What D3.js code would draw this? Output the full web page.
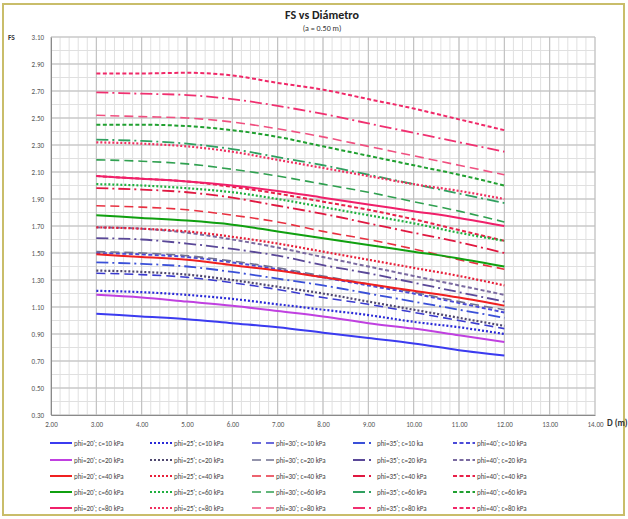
<!DOCTYPE html>
<html>
<head>
<meta charset="utf-8">
<title>FS vs Diámetro</title>
<script src="https://d3js.org/d3.v7.min.js"></script>
<style>
  body { margin: 0; background: #fff; }
  text { font-family: Carlito, "Liberation Sans Narrow", "Liberation Sans", "Noto Sans", sans-serif; }
</style>
</head>
<body>
<div id="chart"></div>
<script>
// diameters (m)
const diameters = [3, 4, 5, 6, 7, 8, 9, 10, 11, 12];
const xTicks = [2, 3, 4, 5, 6, 7, 8, 9, 10, 11, 12, 13, 14];
const yTicks = [0.3, 0.5, 0.7, 0.9, 1.1, 1.3, 1.5, 1.7, 1.9, 2.1, 2.3, 2.5, 2.7, 2.9, 3.1];
const phis = [20, 25, 30, 35, 40];
const cohesions = [10, 20, 40, 60, 80];

// FS values
const phi20_c10 = [1.05, 1.03, 1.01, 0.98, 0.95, 0.91, 0.87, 0.83, 0.78, 0.74];
const phi25_c10 = [1.22, 1.21, 1.19, 1.16, 1.12, 1.08, 1.04, 0.99, 0.95, 0.90];
const phi30_c10 = [1.35, 1.34, 1.32, 1.28, 1.23, 1.17, 1.12, 1.06, 1.00, 0.94];
const phi35_c10 = [1.43, 1.42, 1.40, 1.36, 1.31, 1.26, 1.20, 1.14, 1.08, 1.02];
const phi40_c10 = [1.50, 1.49, 1.47, 1.43, 1.38, 1.32, 1.26, 1.20, 1.13, 1.06];

const phi20_c20 = [1.19, 1.17, 1.14, 1.11, 1.07, 1.03, 0.98, 0.94, 0.89, 0.84];
const phi25_c20 = [1.37, 1.36, 1.34, 1.30, 1.25, 1.20, 1.14, 1.08, 1.02, 0.96];
const phi30_c20 = [1.51, 1.50, 1.48, 1.44, 1.39, 1.33, 1.27, 1.21, 1.14, 1.08];
const phi35_c20 = [1.61, 1.60, 1.57, 1.53, 1.48, 1.41, 1.35, 1.28, 1.21, 1.14];
const phi40_c20 = [1.69, 1.68, 1.65, 1.60, 1.54, 1.47, 1.40, 1.33, 1.26, 1.19];

const phi20_c40 = [1.49, 1.47, 1.45, 1.41, 1.37, 1.32, 1.27, 1.22, 1.17, 1.11];
const phi25_c40 = [1.69, 1.68, 1.66, 1.62, 1.57, 1.51, 1.45, 1.39, 1.33, 1.26];
const phi30_c40 = [1.85, 1.84, 1.82, 1.78, 1.73, 1.66, 1.60, 1.53, 1.45, 1.38];
const phi35_c40 = [1.98, 1.97, 1.95, 1.91, 1.85, 1.79, 1.72, 1.65, 1.58, 1.50];
const phi40_c40 = [2.07, 2.05, 2.03, 1.99, 1.94, 1.88, 1.82, 1.75, 1.67, 1.59];

const phi20_c60 = [1.78, 1.76, 1.74, 1.71, 1.66, 1.61, 1.56, 1.51, 1.46, 1.40];
const phi25_c60 = [2.01, 2.00, 1.98, 1.95, 1.90, 1.84, 1.78, 1.72, 1.65, 1.59];
const phi30_c60 = [2.19, 2.18, 2.16, 2.12, 2.07, 2.01, 1.95, 1.88, 1.81, 1.73];
const phi35_c60 = [2.34, 2.33, 2.31, 2.27, 2.21, 2.15, 2.08, 2.01, 1.94, 1.87];
const phi40_c60 = [2.45, 2.45, 2.44, 2.41, 2.36, 2.29, 2.22, 2.15, 2.08, 2.00];

const phi20_c80 = [2.07, 2.05, 2.03, 2.00, 1.96, 1.91, 1.86, 1.81, 1.76, 1.70];
const phi25_c80 = [2.32, 2.31, 2.29, 2.25, 2.19, 2.13, 2.07, 2.01, 1.96, 1.90];
const phi30_c80 = [2.52, 2.51, 2.50, 2.47, 2.42, 2.36, 2.29, 2.22, 2.15, 2.08];
const phi35_c80 = [2.69, 2.68, 2.67, 2.64, 2.59, 2.53, 2.46, 2.39, 2.32, 2.25];
const phi40_c80 = [2.83, 2.83, 2.835, 2.815, 2.76, 2.71, 2.64, 2.57, 2.49, 2.41];

// rows = cohesion, columns = phi (legend order)
const table = [
  [phi20_c10, phi25_c10, phi30_c10, phi35_c10, phi40_c10],
  [phi20_c20, phi25_c20, phi30_c20, phi35_c20, phi40_c20],
  [phi20_c40, phi25_c40, phi30_c40, phi35_c40, phi40_c40],
  [phi20_c60, phi25_c60, phi30_c60, phi35_c60, phi40_c60],
  [phi20_c80, phi25_c80, phi30_c80, phi35_c80, phi40_c80]
];

const colors = [
  ["#3b3bf0", "#2a2ad8", "#3a3ad0", "#3a50d8", "#4a4ad8"],
  ["#c040e0", "#504870", "#707090", "#5a4898", "#7a6aa0"],
  ["#f02020", "#e8203a", "#e83040", "#e01840", "#e82048"],
  ["#10a010", "#20b040", "#30a050", "#30a060", "#20a030"],
  ["#f0206a", "#f03060", "#f05080", "#f03070", "#f02868"]
];
// line style per phi
const dashes = [null, "2,2", "9,5", "12,4,2,4", "4,2.5"];
const widths = [2, 2.2, 1.6, 1.8, 2];

const series = [];
cohesions.forEach((c, i) => {
  phis.forEach((p, j) => {
    const lbl = (i == 0 && j == 3) ? "phi=" + p + "'; c=" + c + " ka" : "phi=" + p + "'; c=" + c + " kPa";
    series.push({
      label: lbl,
      values: table[i][j].map((v, k) => ({ d: diameters[k], fs: v })),
      color: colors[i][j], dash: dashes[j], width: widths[j], row: i, col: j
    });
  });
});

const W = 628, H = 519;
const svg = d3.select("#chart").append("svg").attr("width", W).attr("height", H);

// outer frame
svg.append("rect").attr("x", 3).attr("y", 4).attr("width", 621).attr("height", 511)
   .attr("fill", "#fff").attr("stroke", "#c9bd6a").attr("stroke-width", 2);

const x = d3.scaleLinear().domain([2, 14]).range([51, 595]);
const y = d3.scaleLinear().domain([0.3, 3.1]).range([415, 37]);

// grid: minor then major
const grid = svg.append("g");
grid.selectAll(".vmin").data(d3.range(2, 14.001, 0.2)).join("line")
    .attr("x1", d => x(d)).attr("x2", d => x(d)).attr("y1", y(0.3)).attr("y2", y(3.1))
    .attr("stroke", "#e0e0e0").attr("stroke-width", 1);
grid.selectAll(".hmin").data(d3.range(0.3, 3.1001, 0.1)).join("line")
    .attr("x1", x(2)).attr("x2", x(14)).attr("y1", d => y(d)).attr("y2", d => y(d))
    .attr("stroke", "#e0e0e0").attr("stroke-width", 1);
grid.selectAll(".vmaj").data(xTicks).join("line")
    .attr("x1", d => x(d)).attr("x2", d => x(d)).attr("y1", y(0.3)).attr("y2", y(3.1))
    .attr("stroke", "#bdbdbd").attr("stroke-width", 1);
grid.selectAll(".hmaj").data(yTicks).join("line")
    .attr("x1", x(2)).attr("x2", x(14)).attr("y1", d => y(d)).attr("y2", d => y(d))
    .attr("stroke", "#bdbdbd").attr("stroke-width", 1);

// axes
const xAxis = svg.append("g").attr("transform", `translate(0,${y(0.3)})`)
    .call(d3.axisBottom(x).tickValues(xTicks).tickFormat(d3.format(".2f")).tickSize(0).tickPadding(7));
const yAxis = svg.append("g").attr("transform", `translate(${x(2)},0)`)
    .call(d3.axisLeft(y).tickValues(yTicks).tickFormat(d3.format(".2f")).tickSize(0).tickPadding(7));
[xAxis, yAxis].forEach(a => {
  a.select(".domain").attr("stroke", "#8a8a8a");
  a.selectAll("text").attr("font-size", 7).attr("fill", "#555");
});

// lines
const line = d3.line().x(d => x(d.d)).y(d => y(d.fs)).curve(d3.curveMonotoneX);
svg.append("g").selectAll("path").data(series).join("path")
   .attr("d", d => line(d.values))
   .attr("fill", "none")
   .attr("stroke", d => d.color)
   .attr("stroke-width", d => d.width)
   .attr("stroke-dasharray", d => d.dash);

// titles
svg.append("text").attr("x", 322).attr("y", 19).attr("text-anchor", "middle")
   .attr("font-size", 12).attr("font-weight", "bold").attr("fill", "#222").text("FS vs Diámetro");
svg.append("text").attr("x", 322).attr("y", 31).attr("text-anchor", "middle")
   .attr("font-size", 8).attr("fill", "#333").text("(a = 0.50 m)");
svg.append("text").attr("x", 8).attr("y", 40)
   .attr("font-size", 7.5).attr("font-weight", "bold").attr("fill", "#333").text("FS");
svg.append("text").attr("x", 607).attr("y", 426)
   .attr("font-size", 9).attr("font-weight", "bold").attr("fill", "#333").text("D (m)");

// legend
const colX = [50, 150, 252, 353, 453];
const rowY = [443, 460, 476, 492, 508];
const leg = svg.append("g").selectAll("g").data(series).join("g")
   .attr("transform", d => `translate(${colX[d.col]},${rowY[d.row]})`);
leg.append("line").attr("x1", 0).attr("x2", 22).attr("y1", 0).attr("y2", 0)
   .attr("stroke", d => d.color).attr("stroke-width", d => d.width)
   .attr("stroke-dasharray", d => d.dash);
leg.append("text").attr("x", 24).attr("y", 2.5)
   .attr("font-size", 7).attr("fill", "#444").text(d => d.label);
</script>
</body>
</html>
